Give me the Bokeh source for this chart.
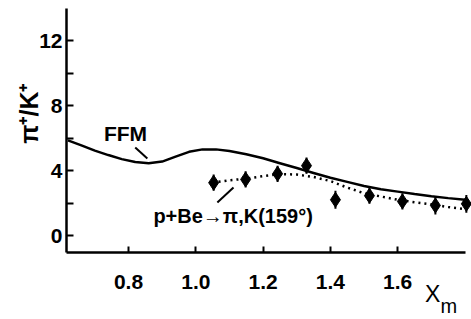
import numpy as np
from bokeh.plotting import figure
from bokeh.models import Range1d, FixedTicker, Label, LinearAxis
from bokeh.embed import file_html
from bokeh.resources import INLINE

# FFM model curve
ffm_x = [0.62, 0.66, 0.70, 0.74, 0.78, 0.82, 0.86, 0.90, 0.94, 0.98, 1.02, 1.06, 1.10,
         1.15, 1.20, 1.25, 1.30, 1.35, 1.40, 1.45, 1.50, 1.55, 1.60, 1.65, 1.70, 1.75, 1.80]
ffm_y = [5.85, 5.55, 5.22, 4.95, 4.7, 4.52, 4.45, 4.55, 4.85, 5.15, 5.3, 5.3, 5.2,
         5.0, 4.75, 4.45, 4.15, 3.85, 3.55, 3.3, 3.05, 2.85, 2.7, 2.55, 2.42, 2.3, 2.2]

# data points p+Be -> pi,K (159 deg)
data_x = [1.053, 1.148, 1.243, 1.329, 1.415, 1.516, 1.614, 1.712, 1.804]
data_y = [3.25, 3.45, 3.8, 4.3, 2.2, 2.45, 2.1, 1.85, 1.95]
data_err = [0.5, 0.5, 0.5, 0.5, 0.55, 0.5, 0.5, 0.55, 0.55]

# dotted fit through the data
fit_x = [1.05, 1.10, 1.15, 1.20, 1.25, 1.30, 1.35, 1.40, 1.45, 1.50, 1.55, 1.60, 1.65, 1.70, 1.75, 1.80]
fit_y = [3.25, 3.4, 3.5, 3.65, 3.78, 3.75, 3.6, 3.35, 2.95, 2.6, 2.4, 2.2, 2.05, 1.92, 1.75, 1.62]

x_ticks = [0.8, 1.0, 1.2, 1.4, 1.6]
x_tick_labels = ["0.8", "1.0", "1.2", "1.4", "1.6"]
y_ticks = [0, 4, 8, 12]
y_minor = [2, 6, 10]

X_MIN, X_MAX = 0.6158, 1.80
Y_MIN, Y_MAX = -1.05, 13.97

FONT = "Liberation Sans"

p = figure(width=471, height=319, output_backend="svg", toolbar_location=None,
           x_axis_location=None, y_axis_location=None,
           x_range=Range1d(0.4196, 1.8193), y_range=Range1d(-5.169, 14.462),
           min_border=0)
p.outline_line_color = None
p.xgrid.visible = False
p.ygrid.visible = False
p.background_fill_color = "white"
p.border_fill_color = "white"

# axes placed inside the frame
xa = LinearAxis(fixed_location=Y_MIN, bounds=(X_MIN, X_MAX))
xa.ticker = FixedTicker(ticks=x_ticks)
xa.major_label_overrides = {t: l for t, l in zip(x_ticks, x_tick_labels)}
xa.major_tick_in = 6
xa.major_tick_out = 0
xa.minor_tick_in = 0
xa.minor_tick_out = 0
xa.axis_line_width = 2.5
xa.major_tick_line_width = 2
xa.major_label_standoff = 22
xa.major_label_text_font = FONT
xa.major_label_text_font_size = "21px"
xa.major_label_text_font_style = "bold"
xa.major_label_text_color = "black"
p.add_layout(xa, "below")

ya = LinearAxis(fixed_location=X_MIN, bounds=(Y_MIN, Y_MAX))
ya.ticker = FixedTicker(ticks=y_ticks, minor_ticks=y_minor)
ya.major_tick_in = 7
ya.major_tick_out = 0
ya.minor_tick_in = 7
ya.minor_tick_out = 0
ya.axis_line_width = 2.5
ya.major_tick_line_width = 2
ya.minor_tick_line_width = 2
ya.major_label_standoff = 4
ya.major_label_text_font = FONT
ya.major_label_text_font_size = "21px"
ya.major_label_text_font_style = "bold"
ya.major_label_text_color = "black"
p.add_layout(ya, "left")

# curves
p.line(ffm_x, ffm_y, line_color="black", line_width=2.5)
p.line(fit_x, fit_y, line_color="black", line_width=2.5, line_dash="2 4")

ex = np.array(data_x)
ey = np.array(data_y)
ee = np.array(data_err)
p.segment(x0=ex, y0=ey - ee, x1=ex, y1=ey + ee, line_color="black", line_width=2)
p.scatter(data_x, data_y, marker="diamond", size=15, fill_color="black", line_color="black")

# leader lines
p.line([0.82, 0.856], [5.42, 4.74], line_color="black", line_width=2)
p.line([1.064, 1.112], [2.03, 2.95], line_color="black", line_width=2)

# labels
p.add_layout(Label(x=0.791, y=6.28, text="FFM", text_font=FONT, text_font_size="21px",
                   text_font_style="bold",
                   text_align="center", text_baseline="middle", text_color="black"))
p.add_layout(Label(x=0.874, y=1.17, text="p+Be\u2192\u03c0,K(159\u00b0)", text_font=FONT,
                   text_font_size="20px", text_font_style="bold",
                   text_align="left", text_baseline="middle", text_color="black"))
p.add_layout(Label(x=1.704, y=-3.63, text="X", text_font=FONT, text_font_size="23px",
                   text_align="center", text_baseline="middle", text_color="black"))
p.add_layout(Label(x=1.752, y=-4.31, text="m", text_font=FONT, text_font_size="20px",
                   text_align="center", text_baseline="middle", text_color="black"))
p.add_layout(Label(x=0.5036, y=7.5, text="\u03c0\u207a/K\u207a", text_font=FONT,
                   text_font_size="25px", text_font_style="bold", angle=np.pi / 2,
                   text_align="center", text_baseline="middle", text_color="black"))

open("out.html", "w").write(file_html(p, INLINE))
